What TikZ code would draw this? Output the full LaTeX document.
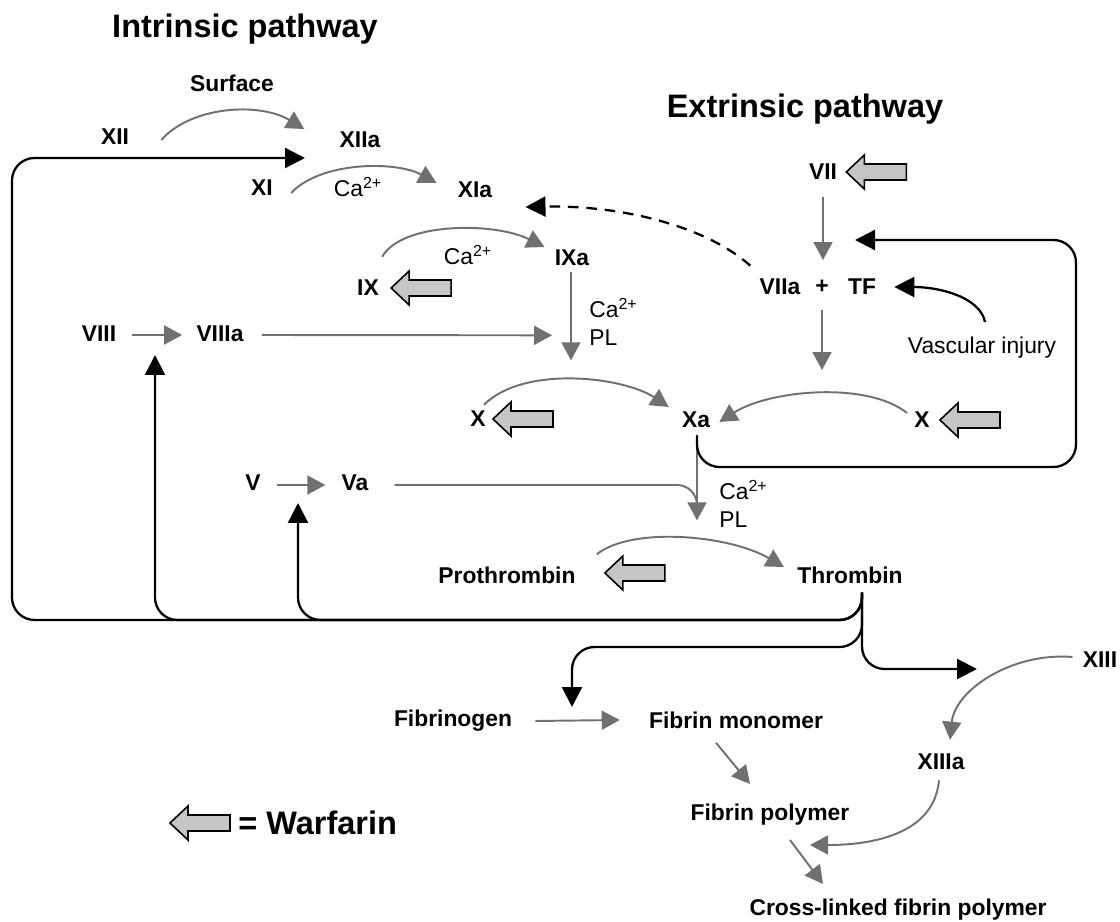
\documentclass[tikz,border=0pt]{standalone}
\usepackage{fontspec}
\setmainfont{Liberation Sans}
\usetikzlibrary{arrows.meta,calc,positioning}
\definecolor{convgray}{RGB}{112,112,112}
\definecolor{drugfill}{RGB}{198,198,198}

\begin{document}
\begin{tikzpicture}[x=0.02cm,y=-0.02cm,
    lbl/.style={font=\fontsize{13}{16}\selectfont\bfseries, inner sep=0pt},
    note/.style={font=\fontsize{13}{16.2}\selectfont, inner sep=0pt, align=left},
    pathway/.style={font=\fontsize{18.5}{22}\selectfont\bfseries, inner sep=0pt},
    conv/.style={draw=convgray, line width=1.1pt, -{Triangle[length=0.36cm,width=0.38cm]}},
    feed/.style={draw, line width=1.3pt, -{Triangle[length=0.4cm,width=0.4cm]}, rounded corners=0.45cm},
    warfarin/.pic={\draw[fill=drugfill, line width=0.9pt] (0,0) -- (18,-17) -- (18,-8) -- (60,-8) -- (60,8) -- (18,8) -- (18,17) -- cycle;},
    ]
    \useasboundingbox (0,0) rectangle (1120,922);

    % Place nodes
    \node [pathway] (intr) at (245,29) {Intrinsic pathway};
    \node [pathway] (extr) at (805,109) {Extrinsic pathway};
    \node [lbl] (surf) at (232,83) {Surface};
    \node [lbl] (XII) at (115,137) {XII};
    \node [lbl] (XIIa) at (360,140) {XIIa};
    \node [lbl] (XI) at (262,188) {XI};
    \node [note] (ca1) at (358,187) {Ca\textsuperscript{2+}};
    \node [lbl] (XIa) at (475,190) {XIa};
    \node [lbl] (IX) at (368,288) {IX};
    \node [note] (ca2) at (468,255) {Ca\textsuperscript{2+}};
    \node [lbl] (IXa) at (572,258) {IXa};
    \node [note, anchor=west] (capl1) at (589,322) {Ca\textsuperscript{2+}\\PL};
    \node [lbl] (VII) at (823,172) {VII};
    \node [lbl] (VIIa) at (780,287) {VIIa};
    \node [lbl] (plus) at (822,287) {+};
    \node [lbl] (TF) at (862,287) {TF};
    \node [note] (vasc) at (982,348) {Vascular injury};
    \node [lbl] (VIII) at (99,334) {VIII};
    \node [lbl] (VIIIa) at (220,334) {VIIIa};
    \node [lbl] (Xl) at (478,419) {X};
    \node [lbl] (Xa) at (696,420) {Xa};
    \node [lbl] (Xr) at (922,420) {X};
    \node [lbl] (V) at (253,483) {V};
    \node [lbl] (Va) at (355,483) {Va};
    \node [note, anchor=west] (capl2) at (719,504) {Ca\textsuperscript{2+}\\PL};
    \node [lbl] (pro) at (507,575) {Prothrombin};
    \node [lbl] (thr) at (850,575) {Thrombin};
    \node [lbl] (XIII) at (1100,660) {XIII};
    \node [lbl] (fbg) at (453,721) {Fibrinogen};
    \node [lbl] (mono) at (736,720) {Fibrin monomer};
    \node [lbl] (XIIIa) at (941,762) {XIIIa};
    \node [lbl] (poly) at (770,815) {Fibrin polymer};
    \node [lbl] (cross) at (898,910) {Cross-linked fibrin polymer};
    \node [pathway, anchor=west] (legend) at (238,823) {= Warfarin};

    % Warfarin blocks
    \pic at ($(VII.east)+(9,0)$) {warfarin};
    \pic at ($(IX.east)+(12,0)$) {warfarin};
    \pic at ($(Xl.east)+(7,0)$) {warfarin};
    \pic at ($(Xr.east)+(10,0)$) {warfarin};
    \pic at ($(pro.east)+(29,-2)$) {warfarin};
    \pic at ($(legend.west)+(-68,0)$) {warfarin};

    % Free ends of the thrombin feedback
    \coordinate (stem) at ($(thr.south)+(12,9)$);
    \coordinate (toXIIa) at ($(XIIa.center)+(-55,18)$);
    \coordinate (toVIII) at (155,355);
    \coordinate (toV) at (298,503);
    \coordinate (toFbg) at (572,707);
    \coordinate (toXIII) at (977,669);
    \coordinate (toVIIa) at (855,240);

    % Draw edges
    \path [conv] ($(XII.east)+(32,3)$) .. controls +(30,-34) and +(-45,-27) .. ($(XIIa.west)+(-35,-11)$);
    \path [conv] ($(XI.east)+(18,5)$) .. controls +(30,-32) and +(-40,-22) .. ($(XIa.west)+(-21,-7)$);
    \path [conv] ($(IX.north east)+(3,-23)$) .. controls +(20,-35) and +(-50,-25) .. ($(IXa.west)+(-10,-11)$);
    \path [conv] ($(IXa.south)+(-1,6)$) -- ($(IXa.south)+(-1,94)$);
    \path [conv] ($(VIII.east)+(16,1)$) -- ($(VIIIa.west)+(-14,1)$);
    \path [conv] ($(VIIIa.east)+(18,1)$) -- ($(IXa.south)+(-20,69)$);
    \path [conv] ($(VII.south)+(0,17)$) -- ($(plus.center)+(1,-27)$);
    \path [conv] ($(plus.center)+(0,23)$) -- ($(plus.center)+(0,83)$);
    \path [conv] ($(Xr.west)+(-7,-7)$) .. controls +(-40,-32) and +(50,-32) .. ($(Xa.east)+(9,2)$);
    \path [conv] ($(Xl.north east)+(-2,-6)$) .. controls +(40,-40) and +(-45,-30) .. ($(Xa.west)+(-13,-13)$);
    \path [conv] ($(V.east)+(16,2)$) -- ($(Va.west)+(-16,2)$);
    \draw [convgray, line width=1.1pt, rounded corners=0.4cm] ($(Va.east)+(26,2)$) -| ($(Xa.south)+(1,80)$);
    \path [conv] ($(Xa.south)+(1,7)$) -- ($(Xa.south)+(1,92)$);
    \path [conv] ($(pro.north east)+(21,-12)$) .. controls +(35,-28) and +(-55,-32) .. ($(thr.west)+(-13,-8)$);
    \path [conv] ($(XIII.west)+(-10,-3)$) .. controls +(-60,-5) and +(5,-50) .. ($(XIIIa.north)+(9,-14)$);
    \path [conv] ($(XIIIa.south)+(-2,10)$) .. controls +(-5,55) and +(60,0) .. ($(cross.north)+(-88,-54)$);
    \path [conv] ($(fbg.east)+(23,0)$) -- ($(mono.west)+(-29,0)$);
    \path [conv] ($(mono.south)+(-20,14)$) -- ($(poly.north)+(-20,-20)$);
    \path [conv] ($(poly.south)+(20,14)$) -- ($(cross.north)+(-75,-15)$);

    % Feedback loops
    \path [feed] (stem) |- (12,620) |- (toXIIa);
    \path [feed] (stem) |- (155,620) -- (toVIII);
    \path [feed] (stem) |- (298,620) -- (toV);
    \path [feed] (stem) |- (572,647) -- (toFbg);
    \path [feed] (stem) |- (toXIII);
    \path [feed] ($(Xa.south)+(1,7)$) |- (1076,467) |- (toVIIa);
    \path [feed, dash pattern=on 6pt off 4.5pt] ($(VIIa.north west)+(-9,-13)$) .. controls +(-45,-40) and +(95,-2) .. ($(XIa.east)+(33,17)$);
    \path [feed] ($(vasc.north)+(3,-15)$) .. controls +(-5,-25) and +(45,0) .. ($(TF.east)+(18,0)$);
  \end{tikzpicture}
\end{document}
